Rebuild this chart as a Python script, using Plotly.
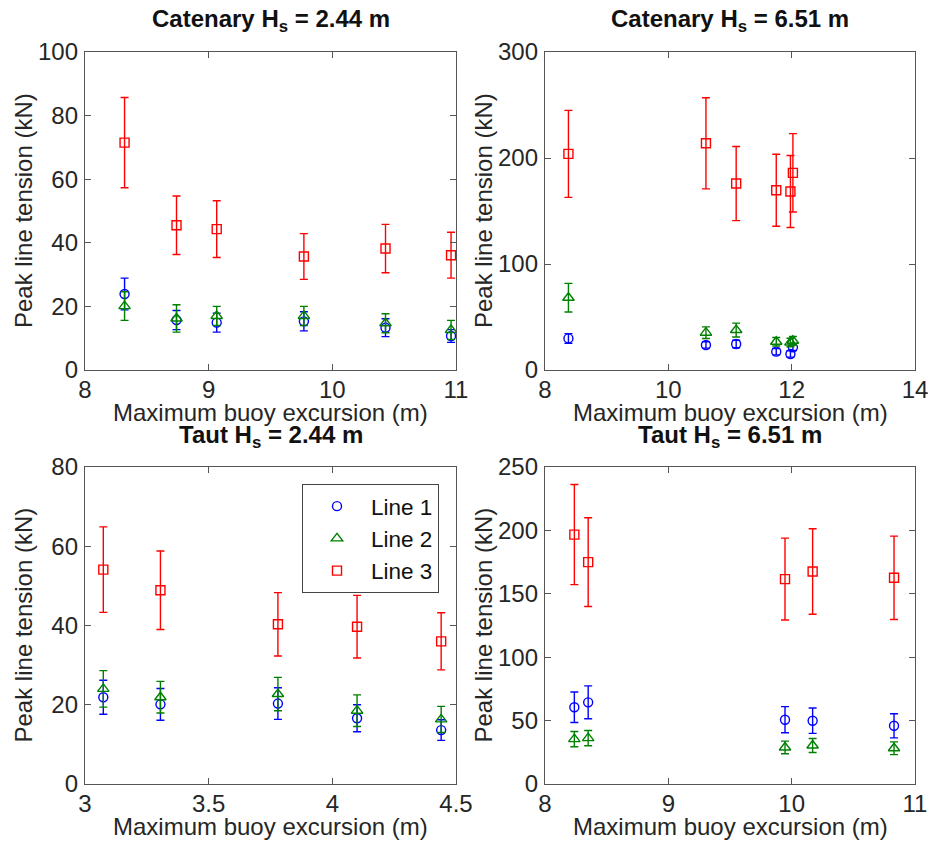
import plotly.graph_objects as go

# Catenary mooring, Hs = 2.44 m
cat_244_x = [8.32, 8.74, 9.065, 9.77, 10.43, 10.96]
cat_244_line1 = [23.9, 15.7, 14.9, 15.3, 13.3, 10.7]
cat_244_line1_err = [5.0, 3.0, 3.0, 3.0, 2.8, 2.0]
cat_244_line2 = [20.1, 16.2, 17.0, 17.0, 14.7, 12.6]
cat_244_line2_err = [4.5, 4.3, 3.0, 3.0, 3.0, 3.0]
cat_244_line3 = [71.5, 45.5, 44.3, 35.7, 38.2, 36.1]
cat_244_line3_err = [14.2, 9.2, 8.9, 7.2, 7.6, 7.2]

# Catenary mooring, Hs = 6.51 m
cat_651_x = [8.38, 10.61, 11.10, 11.75, 11.98, 12.02]
cat_651_line1 = [29.8, 23.6, 24.5, 17.3, 15.1, 21.4]
cat_651_line1_err = [4.5, 3.0, 3.5, 3.0, 3.0, 3.0]
cat_651_line2 = [68.2, 35.2, 37.7, 26.7, 26.0, 27.6]
cat_651_line2_err = [13.5, 5.5, 6.5, 4.0, 4.0, 4.0]
cat_651_line3 = [203.9, 213.9, 175.9, 169.6, 168.4, 186.0]
cat_651_line3_err = [41.0, 43.0, 35.0, 34.0, 34.0, 37.0]

# Taut mooring, Hs = 2.44 m
taut_244_x = [3.074, 3.305, 3.78, 4.10, 4.44]
taut_244_line1 = [21.9, 20.1, 20.3, 16.6, 13.6]
taut_244_line1_err = [4.3, 4.0, 4.0, 3.4, 2.6]
taut_244_line2 = [24.0, 21.9, 22.7, 18.5, 16.3]
taut_244_line2_err = [4.6, 4.0, 4.2, 4.0, 3.3]
taut_244_line3 = [54.1, 48.9, 40.3, 39.7, 36.0]
taut_244_line3_err = [10.8, 9.9, 8.0, 7.9, 7.2]

# Taut mooring, Hs = 6.51 m
taut_651_x = [8.238, 8.35, 9.946, 10.17, 10.83]
taut_651_line1 = [60.5, 64.4, 50.7, 49.9, 45.9]
taut_651_line1_err = [12.0, 13.0, 10.3, 10.0, 9.5]
taut_651_line2 = [35.4, 36.2, 28.8, 30.4, 28.2]
taut_651_line2_err = [6.0, 6.0, 5.0, 5.5, 5.0]
taut_651_line3 = [196.7, 175.0, 161.6, 167.6, 162.6]
taut_651_line3_err = [39.5, 35.0, 32.3, 33.7, 32.9]

panel_titles = ["Catenary H<sub>s</sub> = 2.44 m", "Catenary H<sub>s</sub> = 6.51 m",
                "Taut H<sub>s</sub> = 2.44 m", "Taut H<sub>s</sub> = 6.51 m"]
series_names = ["Line 1", "Line 2", "Line 3"]
x_label = "Maximum buoy excursion (m)"
y_label = "Peak line tension (kN)"

panels = [
    dict(x=cat_244_x, ys=[cat_244_line1, cat_244_line2, cat_244_line3],
         errs=[cat_244_line1_err, cat_244_line2_err, cat_244_line3_err],
         xr=[8, 11], xt=[8, 9, 10, 11], yr=[0, 100], yt=[0, 20, 40, 60, 80, 100]),
    dict(x=cat_651_x, ys=[cat_651_line1, cat_651_line2, cat_651_line3],
         errs=[cat_651_line1_err, cat_651_line2_err, cat_651_line3_err],
         xr=[8, 14], xt=[8, 10, 12, 14], yr=[0, 300], yt=[0, 100, 200, 300]),
    dict(x=taut_244_x, ys=[taut_244_line1, taut_244_line2, taut_244_line3],
         errs=[taut_244_line1_err, taut_244_line2_err, taut_244_line3_err],
         xr=[3, 4.5], xt=[3, 3.5, 4, 4.5], yr=[0, 80], yt=[0, 20, 40, 60, 80]),
    dict(x=taut_651_x, ys=[taut_651_line1, taut_651_line2, taut_651_line3],
         errs=[taut_651_line1_err, taut_651_line2_err, taut_651_line3_err],
         xr=[8, 11], xt=[8, 9, 10, 11], yr=[0, 250], yt=[0, 50, 100, 150, 200, 250]),
]

W, H = 931, 844
# plot-area boxes in pixels: (left, right, top, bottom)
boxes = [(85, 456, 52, 370), (545, 915, 52, 370), (85, 456, 467, 784), (545, 915, 467, 784)]

colors = ["#0000ff", "#008000", "#ff0000"]
symbols = ["circle-open", "triangle-up-open", "square-open"]
sizes = [9, 10, 9]

FONT = "Liberation Sans, Arial, Helvetica, sans-serif"
TXT = "#262626"
AXC = "#555555"

fig = go.Figure()
layout = dict(
    width=W, height=H, margin=dict(l=0, r=0, t=0, b=0, autoexpand=False),
    paper_bgcolor="white", plot_bgcolor="white",
    font=dict(family=FONT, size=24, color=TXT),
    showlegend=True,
    legend=dict(x=439 / W, y=1 - 484 / H, xanchor="right", yanchor="top",
                bgcolor="white", bordercolor="#444444", borderwidth=1,
                font=dict(size=22.5, color="#111111"), itemwidth=58,
                tracegroupgap=0),
)
annotations = []

for i, (p, box) in enumerate(zip(panels, boxes)):
    l, r, t, b = box
    sfx = "" if i == 0 else str(i + 1)
    xa, ya = "x" + sfx, "y" + sfx
    axis_common = dict(showline=True, linecolor=AXC, linewidth=1.3, mirror="ticks",
                       ticks="inside", ticklen=6, tickwidth=1.3, tickcolor=AXC,
                       showgrid=False, zeroline=False,
                       tickfont=dict(size=24, color=TXT, family=FONT))
    layout["xaxis" + sfx] = dict(axis_common, domain=[l / W, r / W], range=p["xr"],
                                 tickvals=p["xt"], anchor=ya, ticklabelstandoff=-2)
    layout["yaxis" + sfx] = dict(axis_common, domain=[1 - b / H, 1 - t / H], range=p["yr"],
                                 tickvals=p["yt"], anchor=xa, ticklabelstandoff=1)
    for k in range(3):
        fig.add_trace(go.Scatter(
            x=p["x"], y=p["ys"][k], mode="markers", name=series_names[k],
            legendgroup=series_names[k], showlegend=(i == 2),
            marker=dict(symbol=symbols[k], size=sizes[k], color=colors[k],
                        line=dict(width=1.4, color=colors[k])),
            error_y=dict(type="data", array=p["errs"][k], symmetric=True,
                         color=colors[k], thickness=1.4, width=4),
            xaxis=xa, yaxis=ya, cliponaxis=False,
        ))
    cx = (l + r) / 2
    annotations.append(dict(text="<b>" + panel_titles[i] + "</b>", x=cx / W, y=1 - (t - 31) / H,
                            xref="paper", yref="paper", xanchor="center", yanchor="middle",
                            showarrow=False, font=dict(size=24, color="#111111", family=FONT)))
    annotations.append(dict(text=x_label, x=cx / W, y=1 - (b + 42) / H,
                            xref="paper", yref="paper", xanchor="center", yanchor="middle",
                            showarrow=False, font=dict(size=24, color=TXT, family=FONT)))
    annotations.append(dict(text=y_label, x=(l - 62) / W, y=1 - ((t + b) / 2) / H,
                            xref="paper", yref="paper", xanchor="center", yanchor="middle",
                            textangle=-90, showarrow=False,
                            font=dict(size=24, color=TXT, family=FONT)))

layout["annotations"] = annotations
fig.update_layout(**layout)
fig.write_html("out.html")
